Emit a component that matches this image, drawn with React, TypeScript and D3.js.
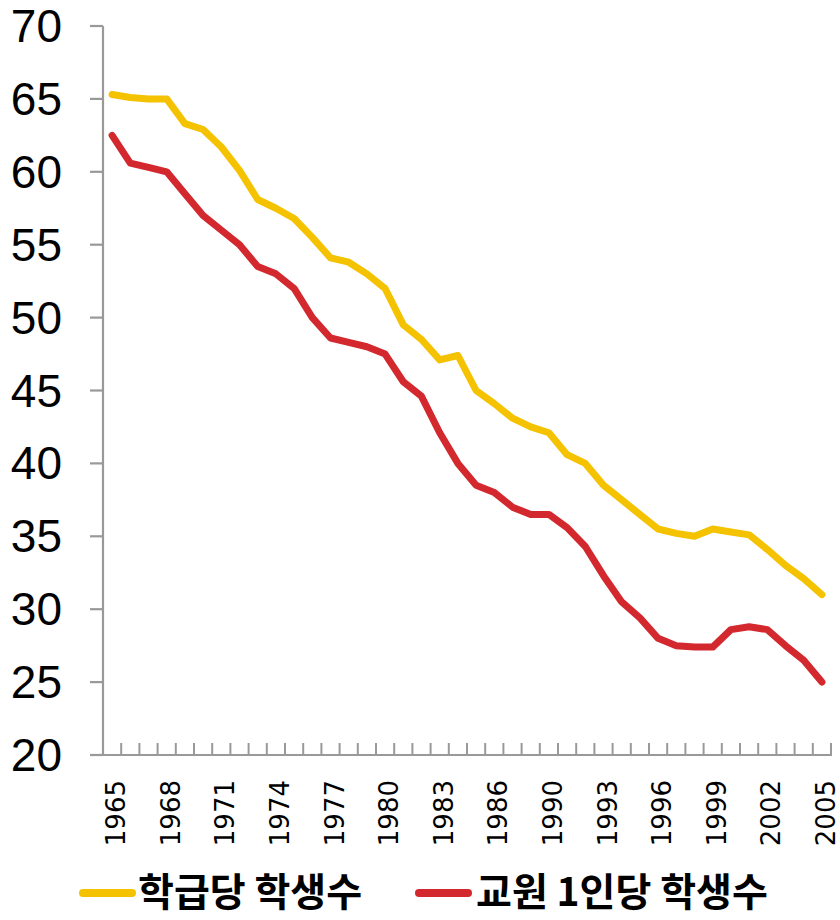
import React from "react";
import * as d3 from "d3";

const years = [
  "1965","1966","1967","1968","1969","1970","1971","1972","1973","1974",
  "1975","1976","1977","1978","1979","1980","1981","1982","1983","1984",
  "1985","1986","1987","1988","1990","1991","1992","1993","1994","1995",
  "1996","1997","1998","1999","2000","2001","2002","2003","2004","2005",
];
const perClass = [
  65.3, 65.1, 65.0, 65.0, 63.3, 62.9, 61.7, 60.1, 58.1, 57.5,
  56.8, 55.5, 54.1, 53.8, 53.0, 52.0, 49.5, 48.5, 47.1, 47.4,
  45.0, 44.1, 43.1, 42.5, 42.1, 40.6, 40.0, 38.5, 37.5, 36.5,
  35.5, 35.2, 35.0, 35.5, 35.3, 35.1, 34.1, 33.0, 32.1, 31.0,
];
const perTeacher = [
  62.5, 60.6, 60.3, 60.0, 58.5, 57.0, 56.0, 55.0, 53.5, 53.0,
  52.0, 50.0, 48.6, 48.3, 48.0, 47.5, 45.6, 44.6, 42.1, 40.0,
  38.5, 38.0, 37.0, 36.5, 36.5, 35.6, 34.3, 32.3, 30.5, 29.4,
  28.0, 27.5, 27.4, 27.4, 28.6, 28.8, 28.6, 27.5, 26.5, 25.0,
];
const yTicks = [20, 25, 30, 35, 40, 45, 50, 55, 60, 65, 70];
const seriesNames = ["학급당 학생수", "교원 1인당 학생수"];
const seriesColors = ["#F5C200", "#D2282E"];

export default function App() {
  const W = 840, H = 920;
  const x0 = 103, x1 = 831, yTop = 26, yBot = 755;
  const x = d3.scaleBand<string>().domain(years).range([x0, x1]).padding(0);
  const y = d3.scaleLinear().domain([20, 70]).range([yBot, yTop]);
  const cx = (i: number) => (x(years[i]) as number) + x.bandwidth() / 2;
  const line = d3.line<number>().x((_, i) => cx(i)).y((d) => y(d));
  const axisColor = "#999999";
  const series = [perClass, perTeacher];

  const boundaries = d3.range(years.length + 1).map((i) => x0 + i * x.bandwidth());

  return (
    <div style={{ position: "absolute", left: 0, top: 0 }}>
      <svg width={W} height={H} style={{ display: "block", background: "#fff" }}>
        {/* Y axis */}
        <line x1={x0} x2={x0} y1={yTop} y2={yBot} stroke={axisColor} strokeWidth={2.2} />
        {yTicks.map((t) => (
          <g key={t}>
            <line x1={90} x2={x0} y1={y(t)} y2={y(t)} stroke={axisColor} strokeWidth={2.2} />
            <text
              x={62}
              y={y(t)}
              textAnchor="end"
              dominantBaseline="central"
              fontFamily="'Liberation Sans', Arial, sans-serif"
              fontSize={46}
              fill="#000"
            >
              {t}
            </text>
          </g>
        ))}
        {/* X axis */}
        <line x1={90} x2={x1 + 1} y1={yBot} y2={yBot} stroke={axisColor} strokeWidth={2.2} />
        {boundaries.map((bx, i) => (
          <line key={i} x1={bx} x2={bx} y1={yBot - 12} y2={yBot} stroke={axisColor} strokeWidth={2} />
        ))}
        {years.map((yr, i) =>
          i % 3 === 0 ? (
            <text
              key={yr}
              transform={`translate(${cx(i) + 4},780) rotate(-90)`}
              textAnchor="end"
              dominantBaseline="central"
              fontFamily="'DejaVu Sans', sans-serif"
              fontSize={26}
              fill="#000"
            >
              {yr}
            </text>
          ) : null
        )}
        {/* Lines */}
        {series.map((s, k) => (
          <path
            key={k}
            d={line(s) || ""}
            fill="none"
            stroke={seriesColors[k]}
            strokeWidth={7}
            strokeLinejoin="round"
            strokeLinecap="round"
          />
        ))}
        {/* Legend */}
        {[
          { lx: 80, tx: 138 },
          { lx: 416, tx: 476 },
        ].map((p, k) => (
          <g key={k}>
            <line x1={p.lx + 3} x2={p.lx + 52} y1={893} y2={893} stroke={seriesColors[k]} strokeWidth={8} strokeLinecap="round" />
            <text
              x={p.tx}
              y={906}
              fontFamily="'Noto Sans CJK KR', sans-serif"
              fontWeight="bold"
              fontSize={39}
              fill="#000"
            >
              {seriesNames[k]}
            </text>
          </g>
        ))}
      </svg>
    </div>
  );
}
